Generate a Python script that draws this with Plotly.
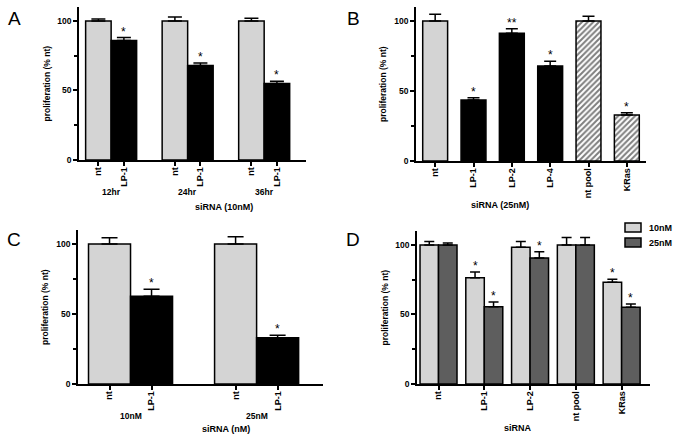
import plotly.graph_objects as go

W, H = 683, 441

# ---------------- data ----------------
# Panel A
a_groups = ["12hr", "24hr", "36hr"]
a_labels = ["nt", "LP-1"]
a_nt = [100, 100, 100]
a_nt_err = [1.4, 2.9, 1.9]
a_lp1 = [86, 68, 55]
a_lp1_err = [2.0, 1.7, 1.6]
a_sig = ["*", "*", "*"]

# Panel B
b_cats = ["nt", "LP-1", "LP-2", "LP-4", "nt pool", "KRas"]
b_vals = [100, 43.6, 91.2, 67.9, 100, 32.9]
b_err = [4.8, 1.6, 3.3, 3.3, 3.4, 1.6]
b_sig = ["", "*", "**", "*", "", "*"]
b_hatched = [False, False, False, False, True, True]

# Panel C
c_groups = ["10nM", "25nM"]
c_labels = ["nt", "LP-1"]
c_nt = [100, 100]
c_nt_err = [4.5, 5.2]
c_lp1 = [62.6, 33.1]
c_lp1_err = [5.0, 1.7]
c_sig = ["*", "*"]

# Panel D
d_cats = ["nt", "LP-1", "LP-2", "nt pool", "KRas"]
d_series = ["10nM", "25nM"]
d_10 = [100, 76.3, 98.3, 100, 73.1]
d_10_err = [2.4, 4.3, 4.1, 5.3, 2.2]
d_25 = [100, 55.6, 90.6, 100, 55.2]
d_25_err = [1.4, 3.4, 4.4, 5.3, 2.4]
d_10_sig = ["", "*", "", "", "*"]
d_25_sig = ["", "*", "*", "", "*"]

# ---------------- style ----------------
LIGHT = "#d4d4d4"
DARK = "#5e5e5e"
BLACK = "#000000"
FONT = "Liberation Sans"
LW = 1.5


def dx(l, r):
    return [l / W, r / W]


def dy(t, b):
    return [1 - b / H, 1 - t / H]


fig = go.Figure()
ann = []
shapes = []


def err(errs, w):
    return dict(type="data", symmetric=False, array=errs, arrayminus=[0] * len(errs),
                color=BLACK, thickness=LW, width=w)


def star_ann(x, t, s, xref, yref):
    return dict(x=x, y=t, xref=xref, yref=yref, text=s, showarrow=False,
                yanchor="bottom", yshift=-3,
                font=dict(family=FONT, size=12, color=BLACK))


def stars(xs, tops, sigs, xref, yref):
    for x, t, s in zip(xs, tops, sigs):
        if s:
            ann.append(star_ann(x, t, s, xref, yref))


def bold(size):
    return dict(family=FONT, size=size, color=BLACK, weight="bold")


# ---- Panel A ----
a_x, a_y, a_e, a_c, a_t, a_s = [], [], [], [], [], []
for g in range(len(a_groups)):
    for i, (v, e, col, s) in enumerate([(a_nt[g], a_nt_err[g], LIGHT, ""),
                                        (a_lp1[g], a_lp1_err[g], BLACK, a_sig[g])]):
        a_x.append(g * 3 + i + 1)
        a_y.append(v)
        a_e.append(e)
        a_c.append(col)
        a_t.append(a_labels[i])
        a_s.append(s)
fig.add_trace(go.Bar(x=a_x, y=a_y, width=1, marker=dict(color=a_c, line=dict(color=BLACK, width=LW)),
                     error_y=err(a_e, 7), xaxis="x", yaxis="y", showlegend=False))
stars(a_x, [v + e for v, e in zip(a_y, a_e)], a_s, "x", "y")
for g, name in enumerate(a_groups):
    ann.append(dict(x=g * 3 + 1.5, y=1 - 192 / H, xref="x", yref="paper", text=name, showarrow=False,
                    yanchor="middle", font=bold(8.5)))
ann.append(dict(x=sum(dx(79, 306)) / 2, y=1 - 207 / H, xref="paper", yref="paper", text="siRNA (10nM)",
                showarrow=False, yanchor="middle", font=bold(9)))

# ---- Panel B ----
solid_idx = [i for i, h in enumerate(b_hatched) if not h]
hatch_idx = [i for i, h in enumerate(b_hatched) if h]
b_solid_col = [LIGHT if b_cats[i] == "nt" else BLACK for i in solid_idx]
fig.add_trace(go.Bar(x=[b_cats[i] for i in solid_idx], y=[b_vals[i] for i in solid_idx], width=0.65,
                     marker=dict(color=b_solid_col, line=dict(color=BLACK, width=LW)),
                     error_y=err([b_err[i] for i in solid_idx], 6),
                     xaxis="x2", yaxis="y2", showlegend=False))
fig.add_trace(go.Bar(x=[b_cats[i] for i in hatch_idx], y=[b_vals[i] for i in hatch_idx], width=0.65,
                     marker=dict(color="white", line=dict(color=BLACK, width=LW),
                                 pattern=dict(shape="/", fgcolor=BLACK, bgcolor="white",
                                              size=4, solidity=0.5, fillmode="overlay")),
                     error_y=err([b_err[i] for i in hatch_idx], 6),
                     xaxis="x2", yaxis="y2", showlegend=False))
stars(b_cats, [v + e for v, e in zip(b_vals, b_err)], b_sig, "x2", "y2")
ann.append(dict(x=sum(dx(416, 646)) / 2, y=1 - 205 / H, xref="paper", yref="paper", text="siRNA (25nM)",
                showarrow=False, yanchor="middle", font=bold(9)))

# ---- Panel C ----
c_x, c_y, c_e, c_c, c_t, c_s = [], [], [], [], [], []
for g in range(len(c_groups)):
    for i, (v, e, col, s) in enumerate([(c_nt[g], c_nt_err[g], LIGHT, ""),
                                        (c_lp1[g], c_lp1_err[g], BLACK, c_sig[g])]):
        c_x.append(g * 3 + i + 1)
        c_y.append(v)
        c_e.append(e)
        c_c.append(col)
        c_t.append(c_labels[i])
        c_s.append(s)
fig.add_trace(go.Bar(x=c_x, y=c_y, width=1, marker=dict(color=c_c, line=dict(color=BLACK, width=LW)),
                     error_y=err(c_e, 8), xaxis="x3", yaxis="y3", showlegend=False))
stars(c_x, [v + e for v, e in zip(c_y, c_e)], c_s, "x3", "y3")
for g, name in enumerate(c_groups):
    ann.append(dict(x=g * 3 + 1.5, y=1 - 416 / H, xref="x3", yref="paper", text=name, showarrow=False,
                    yanchor="middle", font=bold(8.5)))
ann.append(dict(x=sum(dx(78, 323)) / 2, y=1 - 429 / H, xref="paper", yref="paper", text="siRNA (nM)",
                showarrow=False, yanchor="middle", font=bold(9)))

# ---- Panel D ----
BW = 0.404
d_cols = [LIGHT, DARK]
for k, (name, vals, errs, sigs, off) in enumerate([(d_series[0], d_10, d_10_err, d_10_sig, -BW),
                                                   (d_series[1], d_25, d_25_err, d_25_sig, 0)]):
    fig.add_trace(go.Bar(x=d_cats, y=vals, width=BW, offset=off, name=name,
                         marker=dict(color=d_cols[k], line=dict(color=BLACK, width=LW)),
                         error_y=err(errs, 5), xaxis="x4", yaxis="y4", showlegend=False))
    xs = [i + off + BW / 2 for i in range(len(d_cats))]
    for x, v, e, s in zip(xs, vals, errs, sigs):
        if s:
            ann.append(star_ann(x, v + e, s, "x4", "y4"))
    # manual legend entry
    top = 223 + k * 15
    shapes.append(dict(type="rect", xref="paper", yref="paper", x0=625 / W, x1=641 / W,
                       y0=1 - (top + 9) / H, y1=1 - top / H, fillcolor=d_cols[k],
                       line=dict(color=BLACK, width=LW)))
    ann.append(dict(x=647 / W, y=1 - (top + 4.5) / H, xref="paper", yref="paper", text=name,
                    showarrow=False, xanchor="left", yanchor="middle", font=bold(9)))
ann.append(dict(x=sum(dx(417, 650)) / 2, y=1 - 428 / H, xref="paper", yref="paper", text="siRNA",
                showarrow=False, yanchor="middle", font=bold(9)))


# ---------------- axes ----------------
def xax(domain, anchor, rng, tickvals=None, ticktext=None, cats=None):
    d = dict(domain=domain, anchor=anchor, range=rng, showline=True, linecolor=BLACK, linewidth=LW,
             ticks="outside", ticklen=4, tickwidth=LW, tickcolor=BLACK, tickangle=-90,
             ticklabelstandoff=-2,
             tickfont=bold(9), showgrid=False, zeroline=False, fixedrange=True)
    if tickvals is not None:
        d.update(tickmode="array", tickvals=tickvals, ticktext=ticktext)
    if cats is not None:
        d.update(type="category", categoryorder="array", categoryarray=cats)
    return d


def yax(domain, anchor):
    return dict(domain=domain, anchor=anchor, range=[0, 110], showline=True, linecolor=BLACK,
                linewidth=LW, ticks="outside", ticklen=4, tickwidth=LW, tickcolor=BLACK,
                tickmode="array", tickvals=[0, 50, 100],
                minor=dict(tickmode="array", tickvals=[25, 75], ticks="outside", ticklen=3,
                           tickwidth=LW, tickcolor=BLACK, showgrid=False),
                tickfont=bold(8.5), showgrid=False, zeroline=False, fixedrange=True)


layout_axes = dict(
    xaxis=xax(dx(79, 306), "y", [0.24, 9.14], a_x, a_t),
    yaxis=yax(dy(7, 160), "x"),
    xaxis2=xax(dx(416, 646), "y2", [-0.5, 5.5], cats=b_cats),
    yaxis2=yax(dy(7, 161), "x2"),
    xaxis3=xax(dx(78, 323), "y3", [0.25, 6.08], c_x, c_t),
    yaxis3=yax(dy(230, 384), "x3"),
    xaxis4=xax(dx(417, 650), "y4", [-0.47, 4.62], cats=d_cats),
    yaxis4=yax(dy(231, 384), "x4"),
)

# y-axis titles
for axpx, (t, b) in [(79, (7, 160)), (416, (7, 161)), (78, (230, 384)), (417, (231, 384))]:
    ann.append(dict(x=(axpx - 33) / W, y=1 - (t + b) / 2 / H, xref="paper", yref="paper",
                    text="proliferation (% nt)", textangle=-90, showarrow=False,
                    xanchor="center", yanchor="middle", font=bold(8.5)))

# panel letters
for letter, (px, py) in zip("ABCD", [(14, 18), (353, 18), (14, 239), (353, 239)]):
    ann.append(dict(x=px / W, y=1 - py / H, xref="paper", yref="paper", text=letter, showarrow=False,
                    xanchor="center", yanchor="middle", font=dict(family=FONT, size=19, color=BLACK)))

fig.update_layout(
    width=W, height=H, margin=dict(l=0, r=0, t=0, b=0, autoexpand=False),
    paper_bgcolor="white", plot_bgcolor="white",
    barmode="overlay",
    annotations=ann,
    shapes=shapes,
    showlegend=False,
    **layout_axes,
)

fig.write_html("out.html", config={"displayModeBar": False},
               post_script="document.body.style.margin='0';document.body.style.padding='0';")
